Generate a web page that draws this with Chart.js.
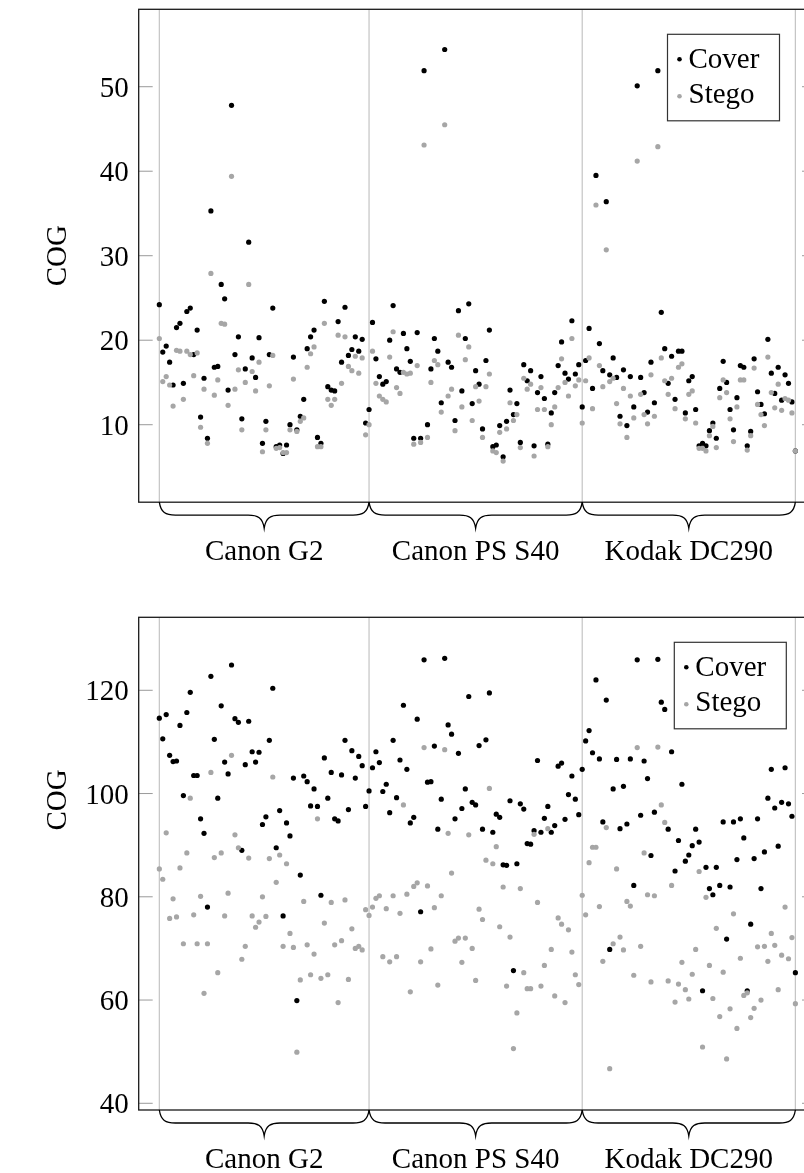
<!DOCTYPE html>
<html>
<head>
<meta charset="utf-8">
<script src="https://cdn.jsdelivr.net/npm/chart.js@4"></script>
<style>
  html, body { margin: 0; padding: 0; background: #fff; overflow: hidden; }
  canvas { position: absolute; left: 0; }
  #top-chart { top: 0; }
  #bottom-chart { top: 590px; }
</style>
</head>
<body>
<canvas id="top-chart" width="820" height="590"></canvas>
<canvas id="bottom-chart" width="820" height="583"></canvas>
<script>
// Cameras and the image index where each block starts / ends
const cameras = ['Canon G2', 'Canon PS S40', 'Kodak DC290'];
const cameraBounds = [0, 61, 123, 185];
const seriesNames = ['Cover', 'Stego'];

const topTicks = [10, 20, 30, 40, 50];
const bottomTicks = [40, 60, 80, 100, 120];

// Upper plot
const topCover = [
  24.2, 18.6, 19.3, 17.4, 14.7, 21.5, 22.0, 14.9, 23.4, 23.8, 18.3, 21.2, 10.9, 15.5, 8.4, 35.3, 16.8, 16.9, 26.6, 24.9,
  14.1, 47.8, 18.3, 20.4, 10.7, 16.6, 31.6, 17.9, 15.6, 20.3, 7.8, 10.4, 18.3, 23.8, 7.4, 7.6, 6.6, 7.6, 10.0, 18.0,
  9.4, 11.0, 13.0, 19.0, 20.4, 21.2, 8.5, 7.8, 24.6, 14.5, 14.1, 14.0, 22.2, 17.4, 23.9, 18.2, 18.9, 20.4, 18.7, 20.1,
  10.2, 11.8,
  22.1, 17.8, 15.7, 14.8, 15.1, 20.0, 24.1, 16.6, 16.2, 20.8, 19.0, 17.5, 8.4, 20.9, 8.4, 51.9, 10.0, 16.6, 20.2, 18.7,
  12.6, 54.4, 17.4, 16.8, 10.5, 23.5, 14.0, 20.2, 24.3, 12.5, 16.4, 14.8, 9.5, 17.6, 21.2, 7.4, 7.6, 9.9, 6.2, 10.4,
  14.1, 11.2, 12.5, 7.9, 17.1, 15.2, 16.4, 7.5, 13.8, 15.7, 13.1, 7.7, 11.4, 13.8, 17.0, 19.8, 16.1, 15.4, 22.3, 16.0,
  17.1, 12.1,
  17.6, 21.4, 14.3, 39.5, 19.6, 16.4, 36.4, 15.9, 17.9, 15.6, 11.0, 16.5, 9.9, 15.7, 12.1, 50.1, 15.6, 13.8, 11.5, 17.4,
  12.6, 51.9, 23.3, 19.0, 14.9, 18.1, 13.0, 18.7, 18.7, 11.4, 15.2, 15.7, 11.8, 7.5, 7.8, 7.5, 9.3, 10.2, 8.4, 14.3,
  17.5, 15.0, 11.8, 9.4, 13.2, 17.0, 16.8, 7.5, 9.2, 17.8, 13.9, 12.4, 11.3, 20.1, 16.1, 13.7, 16.8, 12.9, 15.9, 14.9,
  12.7, 6.9
];
const topStego = [
  20.2, 15.1, 15.7, 14.7, 12.2, 18.8, 18.7, 13.0, 18.7, 18.3, 15.8, 18.5, 9.7, 14.2, 7.8, 27.9, 13.5, 15.3, 22.0, 21.9,
  12.3, 39.4, 14.2, 16.5, 9.4, 15.0, 26.6, 16.3, 14.0, 17.4, 6.8, 9.4, 14.6, 18.2, 7.2, 7.3, 6.7, 6.7, 9.4, 15.4,
  9.2, 10.4, 10.8, 16.8, 18.4, 19.2, 7.4, 7.4, 22.0, 13.0, 12.3, 13.0, 20.6, 14.9, 20.4, 16.9, 16.4, 18.1, 16.1, 17.9,
  8.8, 10.0,
  18.7, 14.9, 13.4, 13.0, 12.7, 18.0, 21.0, 14.4, 13.7, 16.2, 16.0, 16.1, 7.7, 17.0, 7.9, 43.1, 8.5, 15.0, 17.6, 17.1,
  11.5, 45.5, 13.4, 14.2, 9.3, 20.6, 12.1, 17.7, 19.2, 10.5, 14.5, 12.8, 8.5, 14.5, 16.0, 6.9, 6.7, 9.1, 5.7, 9.5,
  12.6, 10.5, 11.2, 7.3, 15.5, 14.2, 14.8, 6.3, 11.8, 14.4, 11.8, 7.4, 10.0, 12.1, 14.4, 17.8, 15.0, 13.4, 20.2, 14.6,
  15.3, 10.2,
  15.2, 17.9, 11.9, 36.0, 17.0, 14.5, 30.7, 15.1, 15.5, 12.5, 10.1, 14.3, 8.5, 13.4, 10.8, 41.2, 13.6, 11.2, 10.1, 15.9,
  11.0, 42.9, 17.9, 15.2, 13.6, 15.5, 11.9, 16.8, 17.2, 10.7, 13.6, 14.0, 10.2, 7.2, 7.2, 6.9, 8.7, 9.8, 7.3, 13.2,
  15.3, 13.8, 10.7, 8.0, 12.1, 15.3, 15.3, 7.0, 8.7, 16.7, 12.4, 11.2, 9.9, 18.0, 13.8, 12.0, 14.8, 11.7, 13.1, 12.9,
  11.4, 6.9
];

// Lower plot
const bottomCover = [
  114.6, 110.6, 115.3, 107.4, 106.2, 106.3, 113.2, 99.6, 115.7, 119.6, 103.5, 103.5, 95.1, 92.3, 78.0, 122.7, 110.5, 99.1, 117.0, 106.1,
  103.8, 124.9, 114.5, 113.8, 89.0, 105.6, 114.0, 108.1, 106.1, 108.0, 94.0, 95.5, 110.3, 120.4, 89.5, 96.7, 76.3, 94.3, 91.8, 103.0,
  59.9, 84.2, 103.4, 102.3, 97.6, 100.9, 97.5, 80.3, 106.9, 99.1, 104.1, 95.1, 94.7, 103.6, 110.3, 96.9, 108.3, 103.0, 107.2, 105.4,
  97.5, 100.5,
  105.0, 108.1, 106.0, 100.4, 101.8, 96.3, 110.3, 99.2, 106.5, 117.1, 104.7, 94.3, 95.4, 114.4, 77.1, 125.9, 102.2, 102.3, 109.2, 93.1,
  98.9, 126.2, 113.3, 111.5, 95.1, 107.8, 97.1, 100.9, 118.8, 98.3, 97.8, 109.3, 93.1, 110.4, 119.5, 92.5, 96.0, 95.4, 86.2, 86.1,
  98.6, 65.7, 86.4, 98.0, 97.0, 90.3, 90.2, 92.8, 106.4, 92.5, 95.2, 97.5, 92.5, 93.8, 105.3, 105.9, 95.0, 99.8, 103.4, 98.9,
  95.9, 104.7,
  110.2, 112.2, 107.9, 122.0, 106.7, 94.5, 118.1, 69.8, 100.9, 106.6, 93.2, 101.4, 94.1, 106.7, 82.2, 125.9, 95.8, 106.3, 102.9, 88.0,
  96.4, 126.0, 117.7, 116.3, 93.1, 108.1, 85.0, 90.9, 101.8, 86.9, 88.1, 89.9, 93.1, 90.6, 61.8, 85.7, 81.6, 80.4, 85.7, 82.2,
  94.5, 71.8, 81.9, 94.5, 87.2, 95.1, 91.4, 61.8, 74.7, 87.4, 95.1, 81.6, 88.7, 99.1, 104.7, 97.2, 89.8, 98.3, 105.0, 98.0,
  95.6, 65.3
];
const bottomStego = [
  85.4, 83.4, 92.4, 75.8, 79.6, 76.1, 85.6, 70.9, 88.5, 99.1, 76.5, 70.9, 80.1, 61.3, 70.9, 104.1, 87.6, 65.3, 88.5, 76.3,
  80.7, 107.4, 92.0, 89.5, 67.9, 70.4, 87.5, 76.3, 74.1, 75.1, 80.0, 76.2, 87.4, 103.2, 82.8, 88.1, 70.4, 86.4, 72.9, 70.2,
  49.9, 63.9, 79.1, 70.7, 64.9, 68.9, 95.1, 64.2, 74.9, 64.9, 78.9, 70.7, 59.5, 71.5, 79.4, 64.0, 73.8, 70.0, 70.4, 69.7,
  77.5, 76.4,
  78.0, 79.7, 80.2, 68.4, 77.7, 67.4, 80.2, 68.4, 76.8, 97.8, 80.5, 61.6, 82.0, 82.7, 67.4, 108.9, 82.1, 69.9, 77.9, 62.9,
  80.2, 108.5, 92.3, 84.6, 71.4, 72.0, 67.3, 72.0, 92.0, 70.0, 63.8, 77.6, 75.6, 87.1, 101.0, 86.4, 89.7, 74.2, 81.9, 62.7,
  72.2, 50.6, 57.5, 81.6, 65.3, 62.2, 62.2, 92.1, 78.9, 62.7, 66.7, 93.2, 69.8, 60.8, 75.9, 74.7, 59.5, 73.6, 69.3, 64.9,
  63.0, 80.3,
  76.5, 86.6, 89.6, 89.6, 78.1, 67.5, 93.4, 46.7, 70.9, 85.4, 72.2, 69.7, 79.1, 78.2, 64.8, 108.9, 70.4, 88.5, 80.4, 63.5,
  80.2, 109.0, 97.8, 94.4, 63.7, 82.2, 59.6, 63.1, 67.3, 62.0, 60.2, 65.0, 69.8, 84.9, 50.9, 79.9, 66.7, 60.3, 73.9, 56.8,
  65.4, 48.6, 58.3, 76.7, 54.5, 68.1, 60.9, 61.4, 56.6, 58.4, 70.3, 60.0, 70.4, 67.5, 72.9, 70.6, 62.0, 68.7, 78.0, 68.0,
  72.1, 59.3
];

const FONT = '29px "Liberation Serif", "Times New Roman", serif';
const COVER_COLOR = '#000000';
const STEGO_COLOR = '#a6a6a6';

// pgfplots-like frame: separators, border, ticks, braces, legend
const framePlugin = {
    id: 'frame',
    beforeDatasetsDraw(chart) {
        const { ctx, chartArea, scales } = chart;
        ctx.save();
        ctx.strokeStyle = '#c4c4c4';
        ctx.lineWidth = 1.2;
        cameraBounds.forEach(b => {
            const x = scales.x.getPixelForValue(b);
            ctx.beginPath();
            ctx.moveTo(x, chartArea.top);
            ctx.lineTo(x, chartArea.bottom);
            ctx.stroke();
        });
        ctx.restore();
    },
    afterDraw(chart) {
        const { ctx, chartArea, scales } = chart;
        const opts = chart.options.plugins.frame;
        const { left, right, top, bottom } = chartArea;
        ctx.save();

        // ticks on both sides
        ctx.strokeStyle = '#9a9a9a';
        ctx.lineWidth = 1;
        ctx.font = FONT;
        ctx.fillStyle = '#000';
        ctx.textAlign = 'right';
        ctx.textBaseline = 'alphabetic';
        opts.ticks.forEach(t => {
            const y = scales.y.getPixelForValue(t);
            ctx.beginPath();
            ctx.moveTo(left, y);
            ctx.lineTo(left + 14, y);
            ctx.moveTo(right, y);
            ctx.lineTo(right - 14, y);
            ctx.stroke();
            ctx.fillText(String(t), left - 10, y + 10);
        });

        // border
        ctx.strokeStyle = '#1a1a1a';
        ctx.lineWidth = 1.3;
        ctx.strokeRect(left, top, right - left, bottom - top);

        // y title
        ctx.save();
        ctx.translate(58, opts.titleY);
        ctx.rotate(-Math.PI / 2);
        ctx.textAlign = 'center';
        ctx.textBaseline = 'middle';
        ctx.fillText('COG', 0, 0);
        ctx.restore();

        // braces under each camera block
        const a = 13, r = 16, y0 = bottom;
        ctx.strokeStyle = '#000';
        ctx.lineWidth = 1.3;
        ctx.textAlign = 'center';
        ctx.textBaseline = 'alphabetic';
        cameras.forEach((name, i) => {
            const xa = scales.x.getPixelForValue(cameraBounds[i]);
            const xb = scales.x.getPixelForValue(cameraBounds[i + 1]);
            const mid = (xa + xb) / 2;
            ctx.beginPath();
            ctx.moveTo(xa, y0);
            ctx.bezierCurveTo(xa + 1.5, y0 + a * 0.8, xa + r * 0.4, y0 + a, xa + r, y0 + a);
            ctx.lineTo(mid - r, y0 + a);
            ctx.bezierCurveTo(mid - r * 0.4, y0 + a, mid - 1.5, y0 + a * 1.2, mid, y0 + 2 * a);
            ctx.bezierCurveTo(mid + 1.5, y0 + a * 1.2, mid + r * 0.4, y0 + a, mid + r, y0 + a);
            ctx.lineTo(xb - r, y0 + a);
            ctx.bezierCurveTo(xb - r * 0.4, y0 + a, xb - 1.5, y0 + a * 0.8, xb, y0);
            ctx.stroke();
            ctx.fillText(name, mid, y0 + 58);
        });

        // legend box
        const lx = opts.legendX, ly = opts.legendY;
        ctx.fillStyle = '#fff';
        ctx.fillRect(lx, ly, 112, 86.5);
        ctx.strokeStyle = '#333';
        ctx.lineWidth = 1.2;
        ctx.strokeRect(lx, ly, 112, 86.5);
        ctx.textAlign = 'left';
        [COVER_COLOR, STEGO_COLOR].forEach((c, i) => {
            const cy = ly + 25 + i * 37;
            ctx.fillStyle = c;
            ctx.beginPath();
            ctx.arc(lx + 12, cy, 2.3, 0, Math.PI * 2);
            ctx.fill();
            ctx.fillStyle = '#000';
            ctx.fillText(seriesNames[i], lx + 21, cy + 9 - i * 2);
        });
        ctx.restore();
    }
};

function makeChart(id, cover, stego, yMin, yMax, ticks, pad, titleY, legendX, legendY) {
    const ctx = document.getElementById(id).getContext('2d');
    return new Chart(ctx, {
        type: 'scatter',
        data: {
            datasets: [{
                label: seriesNames[0],
                data: cover.map((v, i) => ({ x: i, y: v })),
                backgroundColor: COVER_COLOR,
                borderWidth: 0,
                pointRadius: 2.6,
                order: 2
            }, {
                label: seriesNames[1],
                data: stego.map((v, i) => ({ x: i, y: v })),
                backgroundColor: STEGO_COLOR,
                borderWidth: 0,
                pointRadius: 2.6,
                order: 1
            }]
        },
        options: {
            responsive: false,
            devicePixelRatio: 1,
            animation: false,
            layout: { padding: pad },
            plugins: {
                legend: { display: false },
                tooltip: { enabled: false },
                frame: { ticks: ticks, titleY: titleY, legendX: legendX, legendY: legendY }
            },
            scales: {
                x: { type: 'linear', min: -6, max: 191, display: false },
                y: { type: 'linear', min: yMin, max: yMax, display: false }
            }
        },
        plugins: [framePlugin]
    });
}

makeChart('top-chart', topCover, topStego, 0.83, 59.16, topTicks,
    { left: 138.7, right: 3.1, top: 9.3, bottom: 87.8 }, 255.7, 667.5, 34.3);
makeChart('bottom-chart', bottomCover, bottomStego, 38.7, 134.14, bottomTicks,
    { left: 138.7, right: 3.1, top: 27.3, bottom: 63 }, 210, 674.3, 52.3);
</script>
</body>
</html>
